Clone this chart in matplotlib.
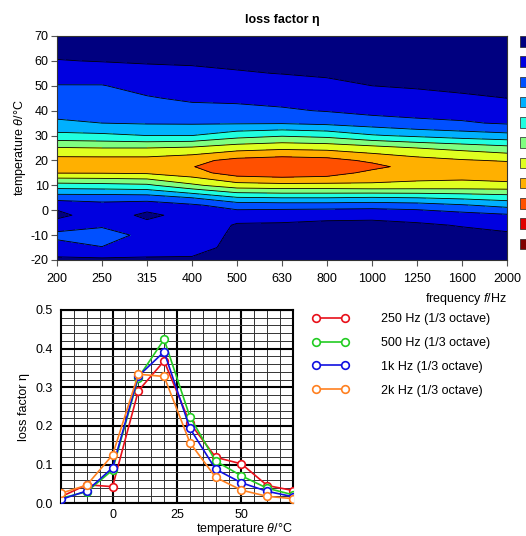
import numpy as np
import matplotlib
matplotlib.use('Agg')
import matplotlib.pyplot as plt
from matplotlib.ticker import MultipleLocator, FormatStrFormatter

plt.rcParams['font.family'] = ['Liberation Sans', 'DejaVu Sans']
plt.rcParams['font.size'] = 9
plt.rcParams['axes.unicode_minus'] = False
plt.rcParams['mathtext.fontset'] = 'custom'
plt.rcParams['mathtext.it'] = 'Liberation Sans:italic'
plt.rcParams['mathtext.rm'] = 'Liberation Sans'

# --- contour map data (rows: temperature, columns: 1/3 octave band) ---
freq_labels = ['200', '250', '315', '400', '500', '630', '800', '1000', '1250', '1600', '2000']
temp_rows = [-20, -15, -10, -6, -2, 2, 5, 10, 15, 17.5, 20, 25, 30, 35, 40, 45, 50, 55, 60, 65, 70]
eta_map = [
    [0.040, 0.040, 0.042, 0.040, 0.028, 0.028, 0.028, 0.028, 0.028, 0.028, 0.030],
    [0.080, 0.098, 0.075, 0.075, 0.030, 0.030, 0.030, 0.030, 0.030, 0.032, 0.035],
    [0.112, 0.125, 0.085, 0.090, 0.035, 0.035, 0.035, 0.035, 0.035, 0.040, 0.042],
    [0.077, 0.092, 0.065, 0.085, 0.045, 0.045, 0.042, 0.042, 0.045, 0.052, 0.065],
    [0.035, 0.080, 0.038, 0.070, 0.073, 0.065, 0.060, 0.058, 0.065, 0.080, 0.093],
    [0.065, 0.085, 0.075, 0.092, 0.122, 0.125, 0.125, 0.122, 0.128, 0.145, 0.165],
    [0.120, 0.120, 0.122, 0.150, 0.195, 0.200, 0.200, 0.195, 0.200, 0.210, 0.222],
    [0.228, 0.233, 0.240, 0.290, 0.329, 0.335, 0.335, 0.341, 0.338, 0.335, 0.335],
    [0.352, 0.353, 0.357, 0.380, 0.425, 0.435, 0.425, 0.385, 0.372, 0.370, 0.385],
    [0.385, 0.385, 0.388, 0.398, 0.430, 0.440, 0.435, 0.415, 0.378, 0.372, 0.375],
    [0.370, 0.370, 0.370, 0.385, 0.415, 0.425, 0.418, 0.390, 0.370, 0.355, 0.345],
    [0.304, 0.300, 0.300, 0.308, 0.330, 0.340, 0.335, 0.320, 0.300, 0.285, 0.268],
    [0.215, 0.210, 0.200, 0.200, 0.230, 0.245, 0.235, 0.205, 0.190, 0.175, 0.165],
    [0.157, 0.150, 0.146, 0.145, 0.145, 0.146, 0.138, 0.125, 0.110, 0.105, 0.095],
    [0.135, 0.134, 0.126, 0.116, 0.114, 0.106, 0.097, 0.085, 0.085, 0.080, 0.073],
    [0.118, 0.118, 0.104, 0.092, 0.089, 0.085, 0.078, 0.068, 0.062, 0.054, 0.050],
    [0.102, 0.102, 0.084, 0.075, 0.071, 0.066, 0.059, 0.050, 0.046, 0.044, 0.042],
    [0.077, 0.075, 0.065, 0.058, 0.053, 0.049, 0.045, 0.042, 0.040, 0.038, 0.036],
    [0.052, 0.048, 0.045, 0.045, 0.042, 0.040, 0.038, 0.036, 0.034, 0.032, 0.030],
    [0.035, 0.035, 0.035, 0.035, 0.033, 0.032, 0.030, 0.030, 0.028, 0.027, 0.025],
    [0.020, 0.020, 0.020, 0.020, 0.020, 0.020, 0.020, 0.020, 0.020, 0.020, 0.020],
]
levels = [0.0, 0.05, 0.10, 0.15, 0.20, 0.25, 0.30, 0.35, 0.40, 0.45, 0.50, 0.55]
level_colors = ['#000080', '#0000e0', '#0050ff', '#00b0ff', '#20ffe0', '#80ff80',
                '#e0ff20', '#ffb000', '#ff5000', '#e00000', '#800000']

# --- loss factor vs temperature for four bands ---
temps = [-20, -10, 0, 10, 20, 30, 40, 50, 60, 70]
eta_250 = [0.017, 0.048, 0.043, 0.291, 0.368, 0.208, 0.119, 0.102, 0.046, 0.033]
eta_500 = [0.013, 0.030, 0.086, 0.325, 0.424, 0.224, 0.109, 0.071, 0.039, 0.022]
eta_1k = [0.010, 0.032, 0.092, 0.329, 0.392, 0.194, 0.088, 0.053, 0.031, 0.017]
eta_2k = [0.026, 0.047, 0.125, 0.334, 0.328, 0.157, 0.067, 0.034, 0.018, 0.012]
series = [
    ('250 Hz (1/3 octave)', eta_250, '#e8101a'),
    ('500 Hz (1/3 octave)', eta_500, '#22cc22'),
    ('1k Hz (1/3 octave)', eta_1k, '#1010e0'),
    ('2k Hz (1/3 octave)', eta_2k, '#ff8020'),
]

W, H = 526, 536
fig = plt.figure(figsize=(W / 100, H / 100), dpi=100)

def box(l, t, r, b):
    return [l / W, 1 - b / H, (r - l) / W, (b - t) / H]

# ---------- contour map ----------
ax = fig.add_axes(box(57, 36, 507, 260))
X, Y = np.meshgrid(np.arange(len(freq_labels)), temp_rows)
Z = np.array(eta_map)
ax.contourf(X, Y, Z, levels=levels, colors=level_colors)
ax.contour(X, Y, Z, levels=levels, colors='black', linewidths=0.6)
ax.set_xlim(0, len(freq_labels) - 1)
ax.set_ylim(-20, 70)
ax.set_xticks(np.arange(len(freq_labels)))
ax.set_xticklabels(freq_labels)
ax.set_yticks(range(-20, 71, 10))
ax.tick_params(direction='out', length=4, width=0.8, color='#555555', pad=2)
ax.tick_params(axis='x', pad=5)
ax.set_title('loss factor η', fontweight='bold', fontsize=9, pad=9)
ax.set_ylabel('temperature $\\mathit{\\theta}$/°C', labelpad=2)
ax.set_xlabel('frequency $\\mathit{f}$/Hz', loc='right', labelpad=5)
for s in ax.spines.values():
    s.set_linewidth(0.8)
    s.set_color('#333333')

# colour key swatches (labels are outside the picture)
kax = fig.add_axes(box(520, 31.3, 540, 254.1))
kax.barh(np.arange(len(level_colors)), [1] * len(level_colors), height=0.52,
         color=level_colors, edgecolor='#222222', linewidth=0.5)
kax.set_xlim(0, 1)
kax.set_ylim(len(level_colors) - 0.5, -0.5)
kax.axis('off')

# ---------- line chart ----------
ax2 = fig.add_axes(box(61, 310, 293, 503.3))
for label, vals, col in series:
    ax2.plot(temps, vals, '-o', color=col, lw=1.2, ms=5.5, mfc='white',
             mec=col, mew=1.2, label=label, zorder=3)
ax2.set_xlim(-20, 70)
ax2.set_ylim(0, 0.5)
ax2.set_xticks([0, 25, 50])
ax2.xaxis.set_minor_locator(MultipleLocator(5))
ax2.yaxis.set_major_locator(MultipleLocator(0.1))
ax2.yaxis.set_minor_locator(MultipleLocator(0.02))
ax2.yaxis.set_major_formatter(FormatStrFormatter('%.1f'))
ax2.grid(which='minor', color='#333333', lw=0.7)
ax2.grid(which='major', color='black', lw=1.5)
ax2.tick_params(which='both', length=0)
ax2.tick_params(axis='y', pad=6)
ax2.tick_params(axis='x', pad=4)
ax2.set_axisbelow(True)
for s in ax2.spines.values():
    s.set_linewidth(1.5)
    s.set_color('black')
ax2.set_ylabel('loss factor η', labelpad=4)
ax2.set_xlabel('temperature $\\mathit{\\theta}$/°C', loc='right', labelpad=0)

ax2.legend(loc='upper left', bbox_to_anchor=(312 / W, 1 - 313 / H),
           bbox_transform=fig.transFigure, frameon=False, numpoints=2,
           handlelength=2.9, handletextpad=2.6, labelspacing=0.95,
           borderpad=0, borderaxespad=0)

fig.savefig('out.png', dpi=100)
